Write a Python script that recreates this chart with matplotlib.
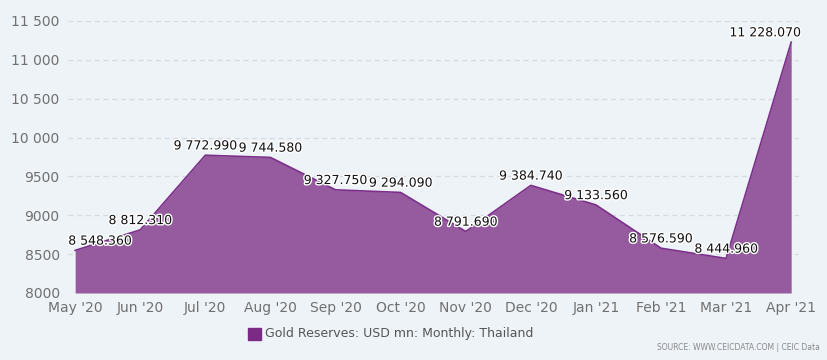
import numpy as np
import matplotlib.pyplot as plt
import matplotlib.patheffects as pe
from matplotlib.ticker import FuncFormatter

months = ["May '20", "Jun '20", "Jul '20", "Aug '20", "Sep '20", "Oct '20",
          "Nov '20", "Dec '20", "Jan '21", "Feb '21", "Mar '21", "Apr '21"]
values = [8548.360, 8812.310, 9772.990, 9744.580, 9327.750, 9294.090,
          8791.690, 9384.740, 9133.560, 8576.590, 8444.960, 11228.070]
series_name = "Gold Reserves: USD mn: Monthly: Thailand"

bg = '#eef3f8'
fill_col = '#955b9e'
line_col = '#7b2f8a'

fig = plt.figure(figsize=(8.28, 3.6), dpi=100, facecolor=bg)
ax = fig.add_axes([68/828, 1 - 293/360, (799-68)/828, (293-21)/360])
ax.set_facecolor(bg)

x = np.arange(len(months))
ax.fill_between(x, 8000, values, color=fill_col, linewidth=0, zorder=2)
ax.plot(x, values, color=line_col, linewidth=1.2, zorder=3)

ax.set_xlim(-0.11, 11.12)
ax.set_ylim(8000, 11500)
ax.set_yticks(np.arange(8000, 11501, 500))
ax.yaxis.set_major_formatter(FuncFormatter(
    lambda v, p: f'{int(v):,}'.replace(',', ' ') if v >= 10000 else f'{int(v)}'))
ax.set_xticks(x)
ax.set_xticklabels(months)
ax.tick_params(axis='both', length=0, labelsize=10, colors='#707070', pad=6)
ax.grid(axis='y', color='#d6dbe1', linestyle=(0, (4, 3)), linewidth=0.9, zorder=1)
for s in ax.spines.values():
    s.set_visible(False)

def fmt(v):
    return f'{v:,.3f}'.replace(',', ' ')

for i, v in enumerate(values):
    ha = 'center'
    dx = 0
    if i == 0:
        ha = 'left'
        dx = -5
    elif i == len(values) - 1:
        ha = 'right'
        dx = 7
    t = ax.annotate(fmt(v), (i, v), xytext=(dx, 2), textcoords='offset points',
                    ha=ha, va='bottom', fontsize=9, color='#111111', zorder=5,
                    annotation_clip=False)
    t.set_path_effects([pe.withStroke(linewidth=2, foreground='white')])

# legend
fig.patches.append(plt.Rectangle((248/828, 1 - 340/360), 13/828, 12/360,
                                 transform=fig.transFigure, color='#7b2a86'))
fig.text(265/828, 1 - 334/360, series_name, fontsize=9, color='#555555',
         va='center', ha='left')
fig.text(820/828, 1 - 348/360, 'SOURCE: WWW.CEICDATA.COM | CEIC Data',
         fontsize=5.5, color='#888888', ha='right', va='center')

fig.savefig('out.png', dpi=100, facecolor=bg)
